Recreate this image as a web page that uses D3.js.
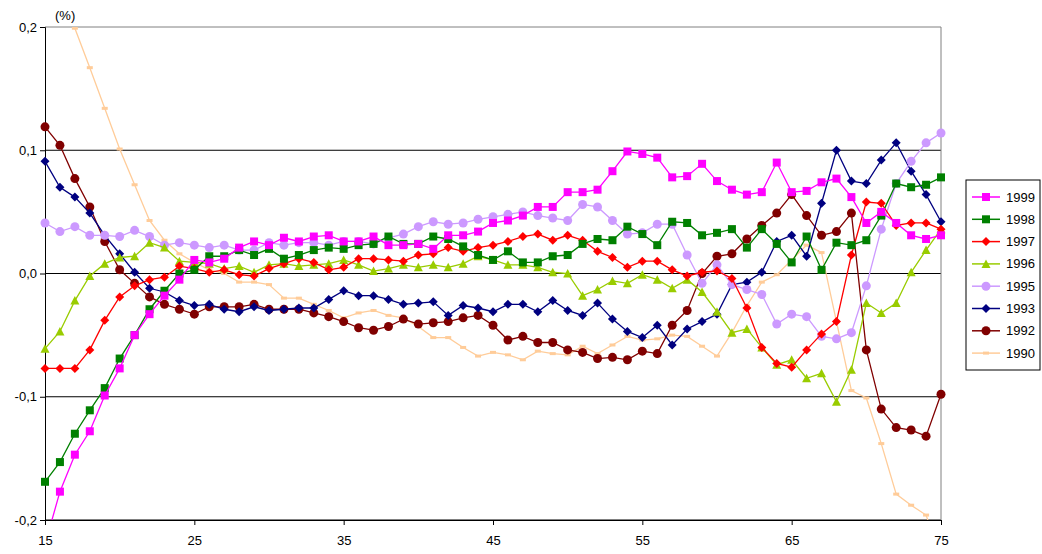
<!DOCTYPE html>
<html><head><meta charset="utf-8">
<script src="https://cdn.jsdelivr.net/npm/d3@7"></script>
<style>body{margin:0;background:#fff}text{font-family:Arial,"Liberation Sans",sans-serif;font-size:13px}</style>
</head><body><svg width="1042" height="554"></svg>
<script>
var ages = d3.range(15, 76);
var yTicks = [0.2, 0.1, 0, -0.1, -0.2];
var xTicks = [15, 25, 35, 45, 55, 65, 75];
var years = ['1999','1998','1997','1996','1995','1993','1992','1990'];

var s1999 = [-.22,-.177,-.147,-.128,-.099,-.077,-.050,-.033,-.018,-.005,.011,.009,.012,.021,.026,.023,.029,.026,.030,.031,
  .026,.026,.030,.023,.023,.024,.020,.031,.031,.034,.041,.043,.047,.054,.054,.066,.066,.068,.083,.099,
  .097,.094,.078,.079,.089,.075,.068,.064,.066,.090,.066,.067,.074,.077,.062,.041,.050,.041,.031,.028,.031];
var s1998 = [-.169,-.153,-.130,-.111,-.093,-.069,-.050,-.029,-.014,0,.003,.014,.014,.019,.015,.020,.012,.015,.019,.021,
  .020,.023,.024,.030,.024,.024,.030,.028,.022,.015,.011,.018,.009,.009,.014,.015,.024,.028,.027,.038,
  .032,.023,.042,.041,.031,.033,.036,.021,.036,.024,.009,.030,.003,.025,.023,.027,.047,.073,.070,.072,.078];
var s1997 = [-.077,-.077,-.077,-.062,-.038,-.019,-.010,-.005,-.003,.006,.004,.001,.003,-.001,-.002,.004,.008,.012,.009,.003,
  .005,.012,.012,.011,.010,.015,.016,.021,.018,.021,.023,.026,.030,.032,.027,.031,.027,.018,.013,.005,
  .010,.010,.003,-.002,.001,.002,-.004,-.028,-.060,-.073,-.076,-.062,-.049,-.039,.015,.058,.057,.039,.041,.041,.036];
var s1996 = [-.061,-.047,-.022,-.002,.008,.013,.014,.025,.021,.010,.009,.008,.004,.006,.001,.007,.008,.006,.007,.008,
  .011,.007,.002,.004,.007,.005,.007,.005,.008,.014,.011,.007,.007,.005,.001,0,-.018,-.013,-.006,-.008,
  -.001,-.005,-.012,-.005,-.015,-.031,-.048,-.045,-.060,-.074,-.070,-.085,-.081,-.104,-.078,-.024,-.032,-.024,.001,.019,.036];
var s1995 = [.041,.034,.038,.031,.031,.030,.035,.030,.023,.025,.023,.021,.023,.019,.019,.025,.023,.025,.025,.023,
  .026,.026,.024,.029,.032,.038,.042,.040,.041,.044,.046,.048,.050,.047,.045,.043,.056,.054,.043,.032,
  .033,.040,.040,.015,-.008,.007,-.009,-.013,-.017,-.041,-.033,-.035,-.051,-.053,-.048,-.010,.036,.073,.091,.106,.114];
var s1993 = [.091,.070,.062,.049,.031,.016,.001,-.012,-.015,-.022,-.026,-.025,-.029,-.031,-.027,-.030,-.029,-.028,-.028,-.021,
  -.014,-.018,-.018,-.021,-.025,-.024,-.023,-.034,-.026,-.028,-.031,-.025,-.025,-.031,-.022,-.030,-.034,-.024,-.037,-.047,
  -.052,-.042,-.058,-.045,-.039,-.033,-.009,-.007,.001,.026,.031,.014,.057,.100,.075,.073,.092,.106,.083,.064,.042];
var s1992 = [.119,.104,.077,.054,.026,.003,-.008,-.019,-.025,-.029,-.033,-.027,-.027,-.027,-.025,-.029,-.029,-.029,-.032,-.035,
  -.039,-.044,-.046,-.043,-.037,-.041,-.040,-.039,-.036,-.034,-.042,-.054,-.051,-.056,-.056,-.062,-.064,-.069,-.068,-.070,
  -.063,-.065,-.042,-.030,0,.014,.016,.028,.039,.049,.064,.047,.031,.034,.049,-.062,-.110,-.125,-.127,-.132,-.098];
var s1990 = [.26,.23,.199,.167,.134,.101,.072,.043,.027,.016,.009,.003,0,-.007,-.007,-.009,-.020,-.020,-.025,-.030,
  -.036,-.032,-.030,-.034,-.036,-.043,-.052,-.052,-.060,-.067,-.064,-.066,-.070,-.063,-.065,-.066,-.059,-.065,-.058,-.051,
  -.054,-.053,-.050,-.051,-.059,-.067,-.048,-.026,-.007,-.001,.011,.023,.017,-.039,-.095,-.101,-.138,-.179,-.188,-.196,-.23];

var seriesValues = [s1999, s1998, s1997, s1996, s1995, s1993, s1992, s1990];
var colors = ['#FF00FF','#008000','#FF0000','#99CC00','#CC99FF','#000080','#800000','#FFCC99'];
var shapes = ['square','square','diamond','triangle','circle','diamond','circle','dash'];

var svg = d3.select('svg');
var x = d3.scaleLinear().domain([15, 75]).range([45, 941]);
var y = d3.scaleLinear().domain([-0.2, 0.2]).range([520, 27]);

svg.append('defs').append('clipPath').attr('id', 'plot')
  .append('rect').attr('x', 30).attr('y', 27).attr('width', 930).attr('height', 493);

// grid
svg.selectAll('line.grid').data(yTicks).enter().append('line')
  .attr('x1', 45).attr('x2', 941)
  .attr('y1', function(d) { return y(d); }).attr('y2', function(d) { return y(d); })
  .attr('stroke', function(d) { return d === 0.2 ? '#808080' : '#000'; }).attr('stroke-width', 1);
svg.append('line').attr('x1', 941).attr('x2', 941).attr('y1', 27).attr('y2', 520).attr('stroke', '#808080');

var fmt = function(d) { return d3.format('.1f')(d).replace('.', ',').replace('−', '-'); };
svg.append('g').attr('transform', 'translate(45,0)')
  .call(d3.axisLeft(y).tickValues(yTicks).tickSize(5).tickFormat(fmt))
  .call(function(g) { g.selectAll('text').attr('font-size', 13).attr('fill', '#000').attr('x', -8); });
svg.append('g').attr('transform', 'translate(0,520)')
  .call(d3.axisBottom(x).tickValues(xTicks).tickSize(5).tickFormat(d3.format('d')))
  .call(function(g) { g.selectAll('text').attr('font-size', 13).attr('fill', '#000').attr('dy', '1.3em'); });
svg.selectAll('.domain').attr('stroke', '#000');

svg.append('text').attr('x', 55).attr('y', 20).text('(%)').attr('font-size', 12);

function marker(sel, shape, color) {
  if (shape === 'square') sel.append('rect').attr('x', -4).attr('y', -4).attr('width', 8).attr('height', 8).attr('fill', color);
  else if (shape === 'circle') sel.append('circle').attr('r', 4.5).attr('fill', color);
  else if (shape === 'diamond') sel.append('path').attr('d', 'M0,-4.5L4.5,0L0,4.5L-4.5,0Z').attr('fill', color);
  else if (shape === 'triangle') sel.append('path').attr('d', 'M0,-4.5L4.5,4L-4.5,4Z').attr('fill', color);
  else sel.append('rect').attr('x', -3).attr('y', -1.5).attr('width', 6).attr('height', 3).attr('fill', color);
}

var line = d3.line().x(function(d, i) { return x(ages[i]); }).y(function(d) { return y(d); });
var plot = svg.append('g').attr('clip-path', 'url(#plot)');

// draw oldest series first so 1999 stays on top
for (var k = seriesValues.length - 1; k >= 0; k--) {
  var g = plot.append('g');
  g.append('path').attr('d', line(seriesValues[k])).attr('fill', 'none')
    .attr('stroke', colors[k]).attr('stroke-width', 1.3);
  g.selectAll('g').data(seriesValues[k].map(function(v, i) { return [ages[i], v]; })
      .filter(function(p) { return p[1] >= -0.2 && p[1] <= 0.2; }))
    .enter().append('g')
    .attr('transform', function(p) { return 'translate(' + x(p[0]) + ',' + y(p[1]) + ')'; })
    .each(function() { marker(d3.select(this), shapes[k], colors[k]); });
}

// legend
var lg = svg.append('g').attr('transform', 'translate(966,180)');
lg.append('rect').attr('width', 74).attr('height', 190).attr('fill', '#fff').attr('stroke', '#000');
years.forEach(function(yr, i) {
  var row = lg.append('g').attr('transform', 'translate(0,' + (17 + i * 22.3) + ')');
  row.append('line').attr('x1', 6).attr('x2', 34).attr('stroke', colors[i]).attr('stroke-width', 1.5);
  marker(row.append('g').attr('transform', 'translate(20,0)'), shapes[i], colors[i]);
  row.append('text').attr('x', 40).attr('y', 4.5).attr('font-size', 12).text(yr);
});
</script></body></html>
